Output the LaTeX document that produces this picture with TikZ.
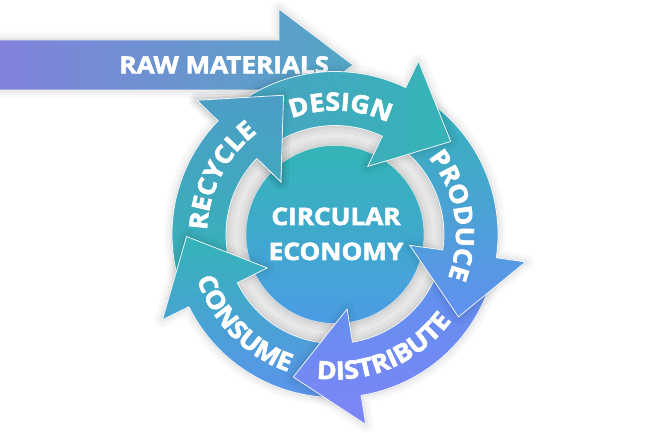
\documentclass[tikz,border=0pt]{standalone}
\usepackage{fontspec}
\setsansfont{Open Sans}
\newfontfamily\ringfam{Open Sans}[LetterSpace=1.5,BoldFeatures={FakeBold=2.5,FakeStretch=1.07}]
\newfontfamily\midfam{Open Sans}[BoldFeatures={FakeBold=2.5,FakeStretch=1.09}]
\newfontfamily\rawfam{Open Sans}[BoldFeatures={FakeBold=2.5,FakeStretch=1.11}]
\usetikzlibrary{calc,decorations.text}
\definecolor{rawL}{HTML}{8281DB}
\definecolor{rawR}{HTML}{52A7C4}
\definecolor{tealA}{HTML}{33B5B6}
\definecolor{tealB}{HTML}{36B1B9}
\definecolor{recTop}{HTML}{4E9CC7}
\definecolor{desL}{HTML}{4BA2C3}
\definecolor{proMid}{HTML}{40A8C8}
\definecolor{proBot}{HTML}{628FF2}
\definecolor{disTop}{HTML}{5A93EC}
\definecolor{disBot}{HTML}{7F84F8}
\definecolor{conBot}{HTML}{5D92EE}
\definecolor{diskBot}{HTML}{4C9CE4}
\definecolor{band}{HTML}{E8E8E8}
\newcommand\rf{\ringfam\bfseries\fontsize{25}{30}\selectfont}
% ring arrow: #1 tail angle, #2 head base angle (clockwise)
\newcommand\ringarrow[2]{($(C)+(#1:163pt)$) arc[start angle=#1, end angle=#2, radius=163pt]
 -- ($(C)+(#2:192.5pt)$) -- ($(C)+(#2:134pt)+(#2-90:64pt)$) -- ($(C)+(#2:75.5pt)$)
 -- ($(C)+(#2:109pt)$) arc[start angle=#2, end angle=#1, radius=109pt] -- cycle}
\newcommand\recheadfill{($(C)+(141:163pt)$) arc[start angle=141, end angle=135.8, radius=163pt]
 -- ($(C)+(135.8:192.5pt)$) -- ($(C)+(135.8:134pt)+(45.8:64pt)$) -- ($(C)+(135.8:75.5pt)$)
 -- ($(C)+(135.8:109pt)$) arc[start angle=135.8, end angle=141, radius=109pt] -- cycle}
\newcommand\recheadline{($(C)+(141:163pt)$) arc[start angle=141, end angle=135.8, radius=163pt]
 -- ($(C)+(135.8:192.5pt)$) -- ($(C)+(135.8:134pt)+(45.8:64pt)$) -- ($(C)+(135.8:75.5pt)$)
 -- ($(C)+(135.8:109pt)$) arc[start angle=135.8, end angle=141, radius=109pt]}
\newcommand\rawpath{(-3,393) -- (279,393) -- (279,424) -- (353,368) -- (279,312) -- (279,343) -- (-3,343) -- cycle}
\tikzset{
 shad/.style={preaction={draw=black,draw opacity=.022,line width=16pt,line join=round},
   preaction={draw=black,draw opacity=.025,line width=10pt,line join=round},
   preaction={draw=black,draw opacity=.03,line width=5pt,line join=round},
   preaction={draw=black,draw opacity=.035,line width=2pt,line join=round}},
 outl/.style={draw=white,draw opacity=.9,line width=.8pt,line join=miter},
 ringlbl/.style={decorate,decoration={text along path,text align=center,text color=white,text={|\rf|#1}}},
 midtxt/.style={text=white,font=\midfam\bfseries\fontsize{24}{28}\selectfont,inner sep=0pt,anchor=base},
}
\begin{document}
\begin{tikzpicture}[x=1pt,y=1pt]
\useasboundingbox (0,0) rectangle (650,433);
\fill[white] (0,0) rectangle (650,433);
\coordinate (C) at (335,198.5);
% raw materials arrow
\path[shad] \rawpath;
\begin{scope}\clip \rawpath; \shade[left color=rawL,right color=rawR] (-3,305) rectangle (355,430);\end{scope}
\draw[outl] \rawpath;
\node[midtxt,font=\rawfam\bfseries\fontsize{23.5}{28}\selectfont] (raw) at (224.2,359.7) {RAW MATERIALS};
% gray band and disk
\fill[band] (C) circle[radius=112pt];
\path[shad] (C) circle[radius=89pt];
\begin{scope}\clip (C) circle[radius=89pt];
\shade[top color=tealA,middle color=tealB,bottom color=diskBot] (240,109) rectangle (430,288);\end{scope}
\draw[white,draw opacity=.6,line width=.6pt] (C) circle[radius=89pt];
% RECYCLE
\path[shad] \ringarrow{198.3}{135.8};
\begin{scope}\clip \ringarrow{198.3}{135.8};
\shade[top color=recTop,middle color=tealB,bottom color=tealA] (160,140) rectangle (295,348);\end{scope}
\draw[outl] \ringarrow{198.3}{135.8};
% CONSUME
\path[shad] \ringarrow{-88.8}{-153.7};
\begin{scope}\clip \ringarrow{-88.8}{-153.7};
\shade[top color=tealA,bottom color=conBot] (150,28) rectangle (348,202);\end{scope}
\draw[outl] \ringarrow{-88.8}{-153.7};
% DISTRIBUTE
\path[shad] \ringarrow{-16.2}{-80.8};
\begin{scope}\clip \ringarrow{-16.2}{-80.8};
\shade[top color=disTop,bottom color=disBot] (280,4) rectangle (505,178);\end{scope}
\draw[outl] \ringarrow{-16.2}{-80.8};
% PRODUCE
\path[shad] \ringarrow{56.3}{-8.2};
\begin{scope}\clip \ringarrow{56.3}{-8.2};
\shade[top color=tealA,middle color=proMid,bottom color=proBot] (398,108) rectangle (532,342);\end{scope}
\draw[outl] \ringarrow{56.3}{-8.2};
% DESIGN
\path[shad] \ringarrow{127.8}{64.3};
\begin{scope}\clip \ringarrow{127.8}{64.3};
\shade[left color=desL,right color=tealA] (225,255) rectangle (465,380);\end{scope}
\draw[outl] \ringarrow{127.8}{64.3};
% RECYCLE head on top of DESIGN tail
\path[shad] ($(C)+(135.8:163pt)$) -- ($(C)+(135.8:192.5pt)$) -- ($(C)+(135.8:134pt)+(45.8:64pt)$) -- ($(C)+(135.8:75.5pt)$) -- ($(C)+(135.8:109pt)$);
\begin{scope}\clip \recheadfill;
\shade[top color=recTop,middle color=tealB,bottom color=tealA] (160,140) rectangle (295,348);\end{scope}
\draw[outl] \recheadline;
% labels
\node[midtxt] (circ) at (336,208) {CIRCULAR};
\node[midtxt] (econ) at (336,173) {ECONOMY};
\path[ringlbl=DESIGN] ($(C)+(117.5:124pt)$) arc[start angle=117.5, end angle=57.5, radius=124pt];
\path[ringlbl=PRODUCE] ($(C)+(49.3:121pt)$) arc[start angle=49.3, end angle=-30.7, radius=121pt];
\path[ringlbl=RECYCLE] ($(C)+(192.7:128pt)$) arc[start angle=192.7, end angle=112.7, radius=128pt];
\path[ringlbl=DISTRIBUTE] ($(C)+(-111.9:145pt)$) arc[start angle=-111.9, end angle=-21.9, radius=145pt];
\path[ringlbl=CONSUME] ($(C)+(184.5:145pt)$) arc[start angle=184.5, end angle=264.5, radius=145pt];
\end{tikzpicture}
\end{document}
